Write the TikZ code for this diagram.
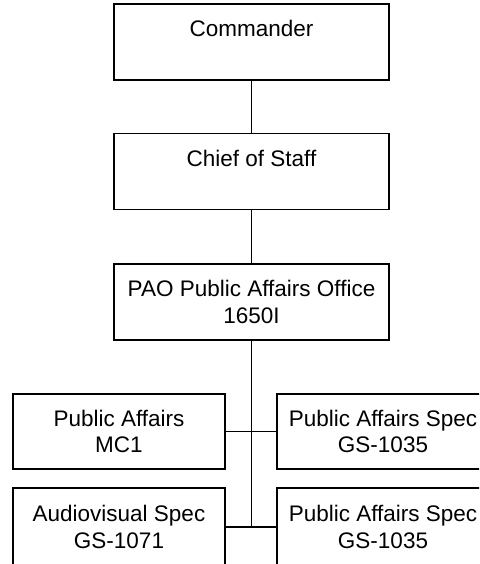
\documentclass[tikz,border=0pt]{standalone}
\usepackage{fontspec}
\setmainfont{Liberation Sans}
\newcommand{\boxtext}[2]{\rule{0pt}{23.5pt}\strut #1\\\strut #2}
\begin{document}
\begin{tikzpicture}[x=1pt, y=-1pt, line width=1.3pt,
	every node/.style={font=\fontsize{22.5}{26.5}\selectfont, align=center, inner sep=0pt},
	topbox/.style={draw, minimum width=275pt, minimum height=76pt},
	staffbox/.style={draw, minimum width=212pt, minimum height=75pt}]
	\useasboundingbox (0,0) rectangle (479,564);
	\clip (0,0) rectangle (479,564);
	
	% --- 上层：指挥链 ---
	\node[topbox] (cmd) at (251.5,42) {\boxtext{Commander}{}};
	\node[topbox] (cos) at (251.5,171.5) {\boxtext{Chief of Staff}{}};
	\node[topbox] (pao) at (251.5,302) {\boxtext{PAO Public Affairs Office}{1650I}};
	
	\draw (cmd) -- (cos);
	\draw (cos) -- (pao);
	
	% --- 下层：参谋人员 ---
	\node[staffbox] (pa)   at (119,431.5) {\boxtext{Public Affairs}{MC1}};
	\node[staffbox] (pas1) at (383,431.5) {\boxtext{Public Affairs Spec}{GS-1035}};
	\node[staffbox, minimum height=78pt] (av)   at (119,527) {\boxtext{Audiovisual Spec}{GS-1071}};
	\node[staffbox, minimum height=78pt] (pas2) at (383,527) {\boxtext{Public Affairs Spec}{GS-1035}};
	
	% 连接线
	\coordinate (jend) at (pao.south |- av.east);
	\draw (pao.south) -- (jend);
	\draw (pa.east) -- (pas1.west);
	\draw (av.east) -- (pas2.west);
\end{tikzpicture}
\end{document}
